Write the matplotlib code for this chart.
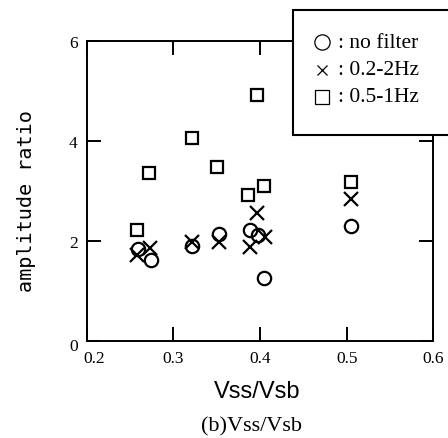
import matplotlib.pyplot as plt
import matplotlib.transforms as mtransforms
from matplotlib.lines import Line2D
from matplotlib.patches import Rectangle

# amplitude ratio vs. Vss/Vsb for the three filter settings
x_nofilter = [0.259, 0.274, 0.321, 0.353, 0.388, 0.398, 0.405, 0.505]
y_nofilter = [1.83, 1.61, 1.90, 2.13, 2.22, 2.11, 1.25, 2.30]

x_band02_2 = [0.258, 0.273, 0.322, 0.353, 0.397, 0.388, 0.406, 0.505]
y_band02_2 = [1.71, 1.85, 1.98, 1.97, 2.55, 1.87, 2.08, 2.83]

x_band05_1 = [0.258, 0.272, 0.322, 0.350, 0.396, 0.386, 0.405, 0.505]
y_band05_1 = [2.21, 3.35, 4.05, 3.48, 4.92, 2.91, 3.09, 3.17]

legend_labels = [': no filter', ': 0.2-2Hz', ': 0.5-1Hz']
x_ticks = [0.2, 0.3, 0.4, 0.5, 0.6]
y_ticks = [0, 2, 4, 6]

W, H = 448, 439
fig = plt.figure(figsize=(W / 100, H / 100), dpi=100)
ax = fig.add_axes([86.7 / W, 1 - 341.7 / H, 346.6 / W, 300 / H])

mk = dict(linestyle='none', color='black', markerfacecolor='none', markeredgewidth=1.6)
ax.plot(x_nofilter, y_nofilter, marker='o', markersize=9.6, **mk)
ax.plot(x_band02_2, y_band02_2, marker='x', markersize=9.6, **mk)
ax.plot(x_band05_1, y_band05_1, marker='s', markersize=8.2, **mk)

ax.set_xlim(0.2, 0.6)
ax.set_ylim(0, 6)
ax.set_xticks(x_ticks)
ax.set_xticklabels([f'{v:.1f}' for v in x_ticks])
ax.set_yticks(y_ticks)
ax.set_yticklabels([str(v) for v in y_ticks])

serif = 'Liberation Serif'
ax.tick_params(direction='in', length=10, width=1.4, top=True, right=True,
               labelsize=12.5, pad=6.5)
for lab in ax.get_xticklabels() + ax.get_yticklabels():
    lab.set_family(serif)
for s in ax.spines.values():
    s.set_linewidth(1.4)

# the corner labels "0" and "0.2" are pushed apart a little
xl0 = ax.get_xticklabels()[0]
xl0.set_transform(xl0.get_transform() + mtransforms.ScaledTranslation(7 / 100, 0, fig.dpi_scale_trans))
yl0 = ax.get_yticklabels()[0]
yl0.set_transform(yl0.get_transform() + mtransforms.ScaledTranslation(0, -3 / 100, fig.dpi_scale_trans))

fig.text(257 / W, 1 - 391.5 / H, 'Vss/Vsb', family='Liberation Sans',
         fontsize=17, ha='center', va='center')
fig.text(251 / W, 1 - 426.5 / H, '(b)Vss/Vsb', family=serif,
         fontsize=16, ha='center', va='center')
fig.text(27 / W, 1 - 201.5 / H, 'amplitude ratio', family='DejaVu Sans Mono',
         fontsize=14.5, rotation=90, ha='center', va='center')

# legend box sitting over the top right corner of the axes, open past the right edge
box = Rectangle((293 / W, 1 - 135.5 / H), (470 - 293) / W, (135.5 - 11) / H,
                transform=fig.transFigure, facecolor='white', edgecolor='black',
                linewidth=1.5, zorder=10, clip_on=False)
fig.add_artist(box)

leg_marks = [('o', 11.0), ('x', 7.5), ('s', 10.0)]
row_y = [43, 71, 98]
for (m, ms), label, ry in zip(leg_marks, legend_labels, row_y):
    fy = 1 - ry / H
    fig.add_artist(Line2D([322 / W], [fy], transform=fig.transFigure,
                          marker=m, markersize=ms, color='black',
                          markerfacecolor='none', markeredgewidth=0.9,
                          linestyle='none', zorder=11))
    fig.text(338 / W, fy, label, family=serif, fontsize=15.5,
             ha='left', va='center', zorder=11)

fig.savefig('out.png', dpi=100)
